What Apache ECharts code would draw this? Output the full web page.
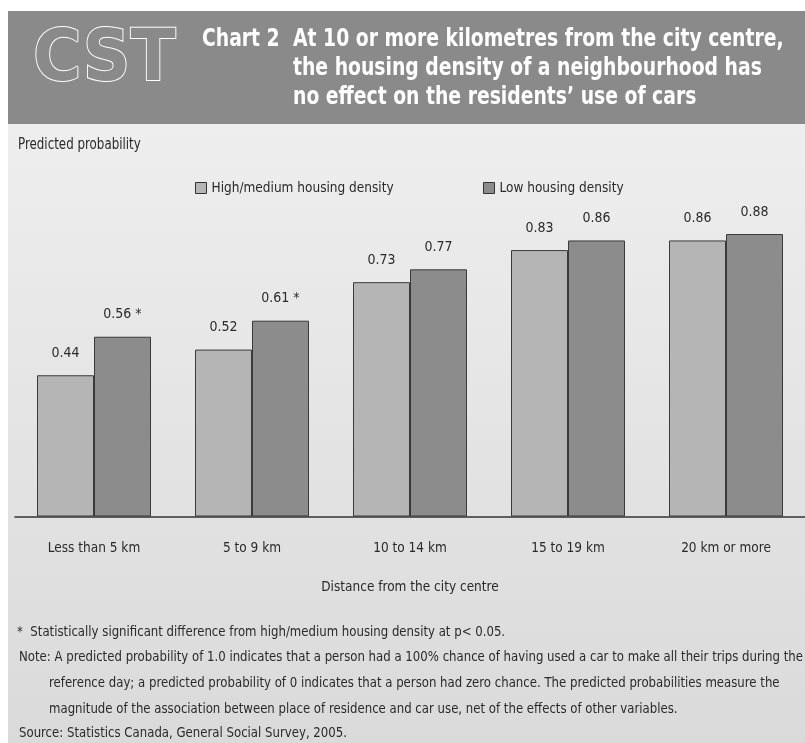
<!DOCTYPE html>
<html>
<head>
<meta charset="utf-8">
<title>Chart 2</title>
<script src="https://cdn.jsdelivr.net/npm/echarts@6/dist/echarts.min.js"></script>
<style>
    html, body { margin: 0; padding: 0; background: #fff; }
    #chart { width: 805px; height: 743px; }
</style>
</head>
<body>
<div id="chart"></div>
<script>
// 数据
const categories = ['Less than 5 km', '5 to 9 km', '10 to 14 km', '15 to 19 km', '20 km or more'];
const highMedium = [0.44, 0.52, 0.73, 0.83, 0.86];
const lowDensity = [0.56, 0.61, 0.77, 0.86, 0.88];
const lowMarks = ['*', '*', '', '', ''];  // 显著性标记

const FONT = "'DejaVu Sans Condensed', 'DejaVu Sans', sans-serif";
const TEXT = '#2a2a2a';

(function () {
    let myChart = echarts.init(document.getElementById('chart'));

    const titleLines = [
        { text: 'Chart 2', x: 202, y: 40 },
        { text: 'At 10 or more kilometres from the city centre,', x: 293, y: 40 },
        { text: 'the housing density of a neighbourhood has', x: 293, y: 69 },
        { text: 'no effect on the residents\u2019 use of cars', x: 293, y: 98 }
    ];
    const notes = [
        { text: '*  Statistically significant difference from high/medium housing density at p< 0.05.', x: 17, y: 632 },
        { text: 'Note: A predicted probability of 1.0 indicates that a person had a 100% chance of having used a car to make all their trips during the', x: 19, y: 657 },
        { text: 'reference day; a predicted probability of 0 indicates that a person had zero chance. The predicted probabilities measure the', x: 49, y: 683 },
        { text: 'magnitude of the association between place of residence and car use, net of the effects of other variables.', x: 49, y: 709 },
        { text: 'Source: Statistics Canada, General Social Survey, 2005.', x: 19, y: 733 }
    ];

    let graphics = [
        {   // 背景
            type: 'rect', z: -10, silent: true,
            shape: { x: 8, y: 124, width: 797, height: 619 },
            style: {
                fill: new echarts.graphic.LinearGradient(0, 0, 0, 1, [
                    { offset: 0, color: '#eeeeee' },
                    { offset: 1, color: '#dadada' }
                ])
            }
        },
        {   // 标题栏
            type: 'rect', z: -9, silent: true,
            shape: { x: 8, y: 11, width: 797, height: 113 },
            style: { fill: '#8a8a8a' }
        },
        {   // CST 标志
            type: 'text', x: 33, y: 61, scaleX: 0.92,
            style: {
                text: 'CST', font: 'bold 72px "DejaVu Sans"',
                fill: '#8a8a8a', stroke: '#ffffff', lineWidth: 2,
                verticalAlign: 'middle'
            }
        },
        {
            type: 'text', x: 18, y: 145, scaleX: 0.88,
            style: { text: 'Predicted probability', font: '15px ' + FONT, fill: TEXT, verticalAlign: 'middle' }
        }
    ];
    titleLines.forEach(l => {
        graphics.push({
            type: 'text', x: l.x, y: l.y, scaleX: 0.87,
            style: { text: l.text, font: 'bold 24px ' + FONT, fill: '#ffffff', verticalAlign: 'middle' }
        });
    });
    notes.forEach(n => {
        graphics.push({
            type: 'text', x: n.x, y: n.y, scaleX: 0.9,
            style: { text: n.text, font: '14.5px ' + FONT, fill: TEXT, verticalAlign: 'middle' }
        });
    });

    const legendBase = {
        icon: 'rect',
        itemWidth: 11,
        itemHeight: 11,
        itemGap: 6,
        top: 176,
        textStyle: { fontFamily: FONT, fontSize: 13.5, color: TEXT },
        itemStyle: { borderColor: '#333', borderWidth: 1 }
    };

    let option = {
        animation: false,
        graphic: graphics,
        legend: [
            Object.assign({ left: 190, data: ['High/medium housing density'] }, legendBase),
            Object.assign({ left: 478, data: ['Low housing density'] }, legendBase)
        ],
        grid: {
            left: 15,
            top: 195.5,
            width: 801,
            height: 321
        },
        xAxis: {
            type: 'category',
            data: categories,
            axisTick: { show: false },
            axisLine: { lineStyle: { color: '#333', width: 1.5 } },
            axisLabel: { fontFamily: FONT, fontSize: 13.5, color: TEXT, margin: 25 },
            name: 'Distance from the city centre',
            nameLocation: 'middle',
            nameGap: 64,
            nameTextStyle: { fontFamily: FONT, fontSize: 13.5, color: TEXT }
        },
        yAxis: {
            type: 'value',
            min: 0,
            max: 1,
            show: false
        },
        series: [
            {
                name: 'High/medium housing density',
                type: 'bar',
                data: highMedium,
                barWidth: 57,
                barGap: '0%',
                itemStyle: { color: '#b5b5b5', borderColor: '#3a3a3a', borderWidth: 1 },
                label: {
                    show: true, position: 'top', distance: 15,
                    fontFamily: FONT, fontSize: 14, color: TEXT,
                    formatter: p => p.value.toFixed(2)
                }
            },
            {
                name: 'Low housing density',
                type: 'bar',
                data: lowDensity,
                barWidth: 57,
                itemStyle: { color: '#8c8c8c', borderColor: '#3a3a3a', borderWidth: 1 },
                label: {
                    show: true, position: 'top', distance: 15,
                    fontFamily: FONT, fontSize: 14, color: TEXT,
                    formatter: p => p.value.toFixed(2) + (lowMarks[p.dataIndex] ? ' ' + lowMarks[p.dataIndex] : '')
                }
            }
        ]
    };
    myChart.setOption(option);

    window.addEventListener('resize', function () {
        myChart.resize();
    });
})();
</script>
</body>
</html>
